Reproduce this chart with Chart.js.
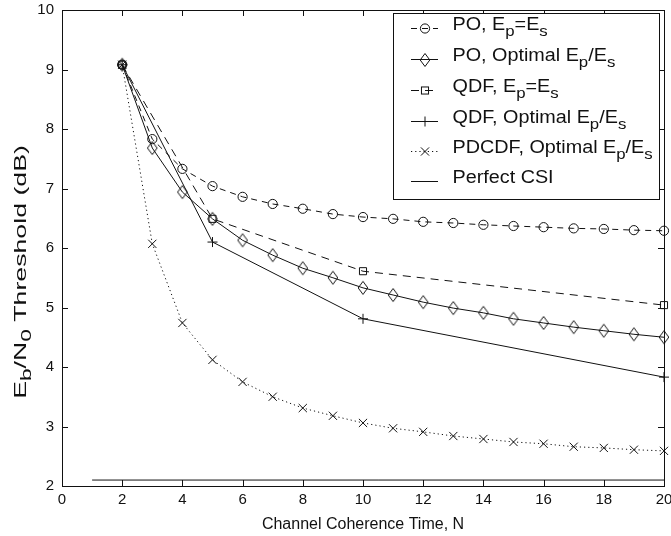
<!DOCTYPE html>
<html><head><meta charset="utf-8">
<script src="https://cdn.jsdelivr.net/npm/chart.js@4.4.0/dist/chart.umd.min.js"></script>
<style>html,body{margin:0;padding:0;background:#fff;overflow:hidden}</style>
</head><body>
<canvas id="c" width="671" height="536"></canvas>
<script>
// ---- data ----
const xTicks = [0,2,4,6,8,10,12,14,16,18,20];
const yTicks = [2,3,4,5,6,7,8,9,10];
const nPO = [2,3,4,5,6,7,8,9,10,11,12,13,14,15,16,17,18,19,20];
const poEqual   = [9.08,7.83,7.33,7.04,6.86,6.74,6.66,6.57,6.52,6.49,6.44,6.42,6.39,6.37,6.35,6.33,6.32,6.30,6.29];
const poOptimal = [9.08,7.68,6.94,6.49,6.13,5.88,5.66,5.50,5.33,5.21,5.09,4.99,4.91,4.81,4.74,4.67,4.61,4.55,4.50];
const nQDF = [2,5,10,20];
const qdfEqual   = [9.08,6.49,5.61,5.04];
const qdfOptimal = [9.08,6.10,4.81,3.83];
const nPD = [2,3,4,5,6,7,8,9,10,11,12,13,14,15,16,17,18,19,20];
const pdcdfOptimal = [9.08,6.07,4.74,4.12,3.75,3.50,3.31,3.18,3.06,2.97,2.91,2.84,2.79,2.74,2.71,2.66,2.64,2.61,2.59];
const nCSI = [1,20];
const perfectCSI = [2.1,2.1];
const xTitle = 'Channel Coherence Time, N';
const yTitleParts = [{t:'E'},{t:'b',sub:true},{t:'/N'},{t:'0',sub:true},{t:' Threshold (dB)'}];
const legendParts = [
  [{t:'PO, E'},{t:'p',sub:true},{t:'=E'},{t:'s',sub:true}],
  [{t:'PO, Optimal E'},{t:'p',sub:true},{t:'/E'},{t:'s',sub:true}],
  [{t:'QDF, E'},{t:'p',sub:true},{t:'=E'},{t:'s',sub:true}],
  [{t:'QDF, Optimal E'},{t:'p',sub:true},{t:'/E'},{t:'s',sub:true}],
  [{t:'PDCDF, Optimal E'},{t:'p',sub:true},{t:'/E'},{t:'s',sub:true}],
  [{t:'Perfect CSI'}]
];

// ---- styles ----
const INK = '#111';
const FONT = '"Liberation Sans", Arial, Helvetica, sans-serif';
function pts(xs, ys){ return xs.map((x,i)=>({x:x, y:ys[i]})); }

const diamond = document.createElement('canvas');
diamond.width = 12; diamond.height = 16;
(function(){ const g = diamond.getContext('2d'); g.strokeStyle = INK; g.lineWidth = 1;
  g.beginPath(); g.moveTo(6,1.5); g.lineTo(10.8,8); g.lineTo(6,14.5); g.lineTo(1.2,8); g.closePath(); g.stroke(); })();

const styles = [
  {dash:[6,5], marker:'circle', r:4.6},
  {dash:[], marker:diamond, r:5},
  {dash:[8,6], marker:'rect', r:5},
  {dash:[], marker:'cross', r:5},
  {dash:[1.2,3], marker:'crossRot', r:5.8},
  {dash:[], marker:null, r:0}
];
const seriesData = [pts(nPO,poEqual), pts(nPO,poOptimal), pts(nQDF,qdfEqual), pts(nQDF,qdfOptimal), pts(nPD,pdcdfOptimal), pts(nCSI,perfectCSI)];

const datasets = seriesData.map((d,i)=>({
  data: d,
  borderColor: INK, borderWidth: 1, borderDash: styles[i].dash,
  pointStyle: styles[i].marker || 'circle', pointRadius: styles[i].r,
  pointBorderColor: INK, pointBackgroundColor: 'rgba(0,0,0,0)', pointBorderWidth: 1,
  tension: 0, fill: false, clip: false
}));

function setFont(ctx, size){ ctx.font = size + 'px ' + FONT; }
function richWidth(ctx, parts, size, subScale){
  let w = 0; for (const p of parts){ setFont(ctx, p.sub ? size*subScale : size); w += ctx.measureText(p.t).width; } return w;
}
function drawRich(ctx, parts, x, y, size, sx, align, subDy, subScale){
  ctx.save(); ctx.translate(x, y); ctx.scale(sx, 1);
  const w = richWidth(ctx, parts, size, subScale);
  let cx = align === 'center' ? -w/2 : 0;
  ctx.textBaseline = 'alphabetic'; ctx.textAlign = 'left';
  for (const p of parts){
    setFont(ctx, p.sub ? size*subScale : size);
    ctx.fillText(p.t, cx, p.sub ? subDy : 0);
    cx += ctx.measureText(p.t).width;
  }
  ctx.restore();
}
function drawMarker(ctx, m, r, x, y){
  ctx.save(); ctx.strokeStyle = INK; ctx.lineWidth = 1; ctx.setLineDash([]);
  if (m === 'circle'){ ctx.beginPath(); ctx.arc(x,y,r,0,Math.PI*2); ctx.stroke(); }
  else if (m === 'rect'){ const s = r*Math.SQRT1_2; ctx.strokeRect(x-s,y-s,2*s,2*s); }
  else if (m === 'cross'){ ctx.beginPath(); ctx.moveTo(x-r,y); ctx.lineTo(x+r,y); ctx.moveTo(x,y-r); ctx.lineTo(x,y+r); ctx.stroke(); }
  else if (m === 'crossRot'){ const s = r*Math.SQRT1_2; ctx.beginPath(); ctx.moveTo(x-s,y-s); ctx.lineTo(x+s,y+s); ctx.moveTo(x-s,y+s); ctx.lineTo(x+s,y-s); ctx.stroke(); }
  else if (m && m.getContext){ ctx.drawImage(m, Math.round(x-m.width/2), Math.round(y-m.height/2)); }
  ctx.restore();
}

const decor = {
  id: 'decor',
  afterDraw(chart){
    const ctx = chart.ctx, a = chart.chartArea, xs = chart.scales.x, ys = chart.scales.y;
    ctx.save();
    ctx.strokeStyle = INK; ctx.lineWidth = 1; ctx.setLineDash([]);
    // box
    ctx.strokeRect(Math.round(a.left)+0.5, Math.round(a.top)+0.5, Math.round(a.right-a.left), Math.round(a.bottom-a.top));
    // inward ticks
    const TL = 6;
    ctx.beginPath();
    for (const v of xTicks){ const px = Math.round(xs.getPixelForValue(v))+0.5;
      ctx.moveTo(px, a.bottom); ctx.lineTo(px, a.bottom-TL); ctx.moveTo(px, a.top); ctx.lineTo(px, a.top+TL); }
    for (const v of yTicks){ const py = Math.round(ys.getPixelForValue(v))+0.5;
      ctx.moveTo(a.left, py); ctx.lineTo(a.left+TL, py); ctx.moveTo(a.right, py); ctx.lineTo(a.right-TL, py); }
    ctx.stroke();
    // tick labels
    ctx.fillStyle = INK;
    setFont(ctx, 15); ctx.textBaseline = 'middle';
    ctx.textAlign = 'center';
    for (const v of xTicks){ ctx.fillText(String(v), xs.getPixelForValue(v), a.bottom + 14); }
    ctx.textAlign = 'right';
    for (const v of yTicks){ ctx.fillText(String(v), a.left - 8, ys.getPixelForValue(v)); }
    // axis titles
    drawRich(ctx, [{t:xTitle}], (a.left+a.right)/2, 529, 16, 1, 'center', 0, 1);
    ctx.save(); ctx.translate(26, 272); ctx.rotate(-Math.PI/2);
    drawRich(ctx, yTitleParts, 0, 0, 17, 1.57, 'center', 5, 0.85);
    ctx.restore();
    // legend
    const L = {x0:393, y0:13, x1:659, y1:199};
    ctx.fillStyle = '#fff'; ctx.fillRect(L.x0, L.y0, L.x1-L.x0, L.y1-L.y0);
    ctx.strokeRect(L.x0+0.5, L.y0+0.5, L.x1-L.x0, L.y1-L.y0);
    const rowY = [28, 59, 90, 121, 151, 181];
    for (let i=0;i<6;i++){
      const y = rowY[i]+0.5;
      ctx.save(); ctx.setLineDash(styles[i].dash); ctx.beginPath(); ctx.moveTo(411,y); ctx.lineTo(438,y); ctx.stroke(); ctx.restore();
      if (styles[i].marker) drawMarker(ctx, styles[i].marker, styles[i].r, 425, y);
      ctx.fillStyle = INK;
      drawRich(ctx, legendParts[i], 452.5, rowY[i]+2, 17.5, 1.13, 'left', 6, 0.85);
    }
    ctx.restore();
  }
};

new Chart(document.getElementById('c'), {
  type: 'line',
  data: { datasets: datasets },
  options: {
    responsive: false, animation: false, devicePixelRatio: 1,
    layout: { padding: { left: 62, right: 7, top: 10, bottom: 50 } },
    plugins: { legend: { display: false }, tooltip: { enabled: false } },
    scales: {
      x: { type: 'linear', min: 0, max: 20, display: false },
      y: { type: 'linear', min: 2, max: 10, display: false }
    }
  },
  plugins: [decor]
});
</script>
</body></html>
